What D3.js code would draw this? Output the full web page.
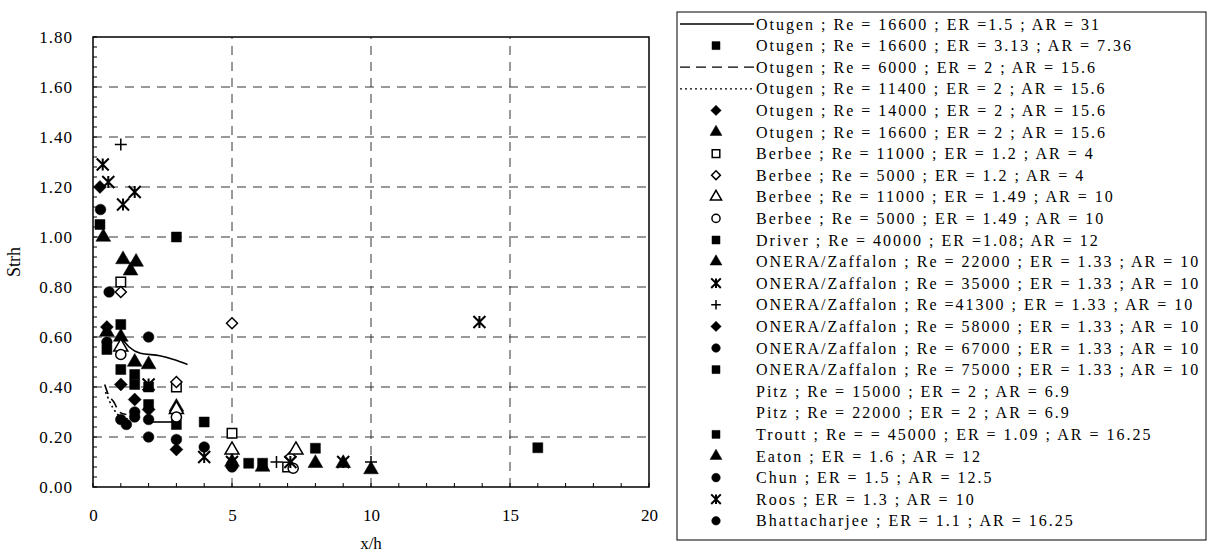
<!DOCTYPE html>
<html><head><meta charset="utf-8">
<script src="https://cdn.jsdelivr.net/npm/d3@7"></script>
<style>
body{margin:0;background:#fff}
svg{display:block}
text{font-family:"Liberation Serif","Times New Roman",serif;fill:#000}
</style>
</head><body>
<svg id="c" width="1208" height="553"></svg>
<script>
// ---------- data ----------
const xTicks = [0, 5, 10, 15, 20];
const yTicks = [0, 0.2, 0.4, 0.6, 0.8, 1.0, 1.2, 1.4, 1.6, 1.8];

const legendLabels = [
  "Otugen ; Re = 16600 ; ER =1.5 ; AR = 31",
  "Otugen ; Re = 16600 ; ER = 3.13 ; AR = 7.36",
  "Otugen ; Re = 6000 ; ER = 2 ; AR = 15.6",
  "Otugen ; Re = 11400 ; ER = 2 ; AR = 15.6",
  "Otugen ; Re = 14000 ; ER = 2 ; AR = 15.6",
  "Otugen ; Re = 16600 ; ER = 2 ; AR = 15.6",
  "Berbee ; Re = 11000 ; ER = 1.2 ; AR = 4",
  "Berbee ; Re = 5000 ; ER = 1.2 ; AR = 4",
  "Berbee ; Re = 11000 ; ER = 1.49 ; AR = 10",
  "Berbee ; Re = 5000 ; ER = 1.49 ; AR = 10",
  "Driver ; Re = 40000 ; ER =1.08; AR = 12",
  "ONERA/Zaffalon ; Re = 22000 ; ER = 1.33 ; AR = 10",
  "ONERA/Zaffalon ; Re = 35000 ; ER = 1.33 ; AR = 10",
  "ONERA/Zaffalon ; Re =41300 ; ER = 1.33 ; AR = 10",
  "ONERA/Zaffalon ; Re = 58000 ; ER = 1.33 ; AR = 10",
  "ONERA/Zaffalon ; Re = 67000 ; ER = 1.33 ; AR = 10",
  "ONERA/Zaffalon ; Re = 75000 ; ER = 1.33 ; AR = 10",
  "Pitz ; Re = 15000 ; ER = 2 ; AR = 6.9",
  "Pitz ; Re = 22000 ; ER = 2 ; AR = 6.9",
  "Troutt ; Re = = 45000 ; ER = 1.09 ; AR = 16.25",
  "Eaton ; ER = 1.6 ; AR = 12",
  "Chun ; ER = 1.5 ; AR = 12.5",
  "Roos ; ER = 1.3 ; AR = 10",
  "Bhattacharjee ; ER = 1.1 ; AR = 16.25"
];

// [x/h, Strh]
const otugen16600a = [[1.0,0.60],[1.3,0.56],[1.7,0.535],[2.4,0.525],[2.9,0.51],[3.4,0.49]];
const otugen16600b = [[0.5,0.55],[1.0,0.47],[1.5,0.41],[2.0,0.33],[3.0,0.25]];
const otugen6000   = [[0.42,0.41],[0.55,0.37],[0.75,0.34],[0.95,0.30],[1.2,0.29]];
const otugen11400  = [[0.45,0.38],[0.7,0.32],[1.0,0.28],[1.4,0.27]];
const otugen14000  = [[0.5,0.64],[1.0,0.41],[1.5,0.35],[2.0,0.31],[3.0,0.15]];
const otugen16600c = [[0.5,0.62],[1.0,0.60],[1.5,0.50],[2.0,0.49],[3.0,0.32]];
const berbee11000a = [[1.0,0.82],[3.0,0.40],[5.0,0.215],[7.0,0.08]];
const berbee5000a  = [[1.0,0.78],[3.0,0.42],[5.0,0.655],[7.1,0.12]];
const berbee11000b = [[1.0,0.56],[3.0,0.31],[5.0,0.148],[7.3,0.148]];
const berbee5000b  = [[1.0,0.53],[3.0,0.28],[5.0,0.09],[7.2,0.075]];
const driver40000  = [[1.0,0.65],[1.5,0.45],[2.0,0.40],[3.0,1.00],[4.0,0.26]];
const onera22000   = [[0.37,1.00],[1.08,0.91],[1.35,0.865],[1.55,0.90]];
const onera35000   = [[0.35,1.29],[0.55,1.22],[1.08,1.13],[1.5,1.18]];
const onera41300   = [[1.0,1.37],[6.6,0.10],[10.0,0.10]];
const onera58000   = [[0.25,1.20]];
const onera67000   = [[0.27,1.11]];
const onera75000   = [[0.25,1.05]];
const pitz15000    = [[2.1,0.26],[2.95,0.26]];
const pitz22000    = [];
const troutt45000  = [[5.6,0.095],[6.1,0.095],[8.0,0.155],[16.0,0.157]];
const eaton        = [[5.0,0.10],[6.1,0.08],[8.0,0.095],[9.0,0.095],[10.0,0.07]];
const chun         = [[2.0,0.60],[2.0,0.20],[4.0,0.16],[5.0,0.08],[1.5,0.28]];
const roos         = [[2.0,0.41],[4.0,0.12],[5.0,0.10],[7.1,0.10],[9.0,0.10],[13.9,0.66]];
const bhattacharjee= [[0.58,0.78],[0.5,0.58],[1.0,0.27],[1.5,0.30],[2.0,0.27],[3.0,0.19],[1.2,0.25]];

// ---------- series config (style) ----------
const seriesData = [otugen16600a, otugen16600b, otugen6000, otugen11400, otugen14000, otugen16600c,
  berbee11000a, berbee5000a, berbee11000b, berbee5000b, driver40000, onera22000, onera35000, onera41300,
  onera58000, onera67000, onera75000, pitz15000, pitz22000, troutt45000, eaton, chun, roos, bhattacharjee];
const seriesStyle = [
  {line:"solid"}, {mark:"square"}, {line:"dash"}, {line:"dot"}, {mark:"diamond"}, {mark:"triangle"},
  {mark:"square", open:true}, {mark:"diamond", open:true}, {mark:"triangle", open:true}, {mark:"circle", open:true},
  {mark:"square"}, {mark:"triangle"}, {mark:"star"}, {mark:"plus"}, {mark:"diamond"}, {mark:"circle"}, {mark:"square"},
  {line:"solid", hideLegend:true}, {}, {mark:"square"}, {mark:"triangle"}, {mark:"circle"}, {mark:"star"}, {mark:"circle"}
];
const series = legendLabels.map((label, i) => ({label, data: seriesData[i], ...seriesStyle[i]}));

// ---------- chart ----------
const svg = d3.select("#c");
const x = d3.scaleLinear().domain([0, 20]).range([93, 649]);
const y = d3.scaleLinear().domain([0, 1.8]).range([487, 37]);

// grid
const grid = svg.append("g").attr("stroke", "#333").attr("stroke-width", 1).attr("stroke-dasharray", "9,7");
grid.selectAll("line.h").data(yTicks.filter(d => d > 0 && d < 1.8)).join("line")
  .attr("x1", x(0)).attr("x2", x(20)).attr("y1", d => y(d)).attr("y2", d => y(d));
grid.selectAll("line.v").data(xTicks.filter(d => d > 0 && d < 20)).join("line")
  .attr("y1", y(0)).attr("y2", y(1.8)).attr("x1", d => x(d)).attr("x2", d => x(d));

// minor ticks
const minorY = d3.range(0, 1.8001, 0.04);
svg.append("g").selectAll("line").data(minorY).join("line")
  .attr("x1", x(0)).attr("x2", x(0) + 4).attr("y1", d => y(d)).attr("y2", d => y(d))
  .attr("stroke", "#000").attr("stroke-width", 1);
const minorX = d3.range(0, 21, 1);
svg.append("g").selectAll("line").data(minorX).join("line")
  .attr("x1", d => x(d)).attr("x2", d => x(d)).attr("y1", y(0)).attr("y2", y(0) - 4)
  .attr("stroke", "#000").attr("stroke-width", 1);

// frame
svg.append("rect").attr("x", x(0)).attr("y", y(1.8)).attr("width", x(20) - x(0)).attr("height", y(0) - y(1.8))
  .attr("fill", "none").attr("stroke", "#000").attr("stroke-width", 1.5);

// axes
const yAxis = svg.append("g").attr("transform", `translate(${x(0)},0)`)
  .call(d3.axisLeft(y).tickValues(yTicks).tickFormat(d3.format(".2f")).tickSize(0).tickPadding(20));
yAxis.select(".domain").remove();
yAxis.selectAll("text").attr("font-size", 17).attr("letter-spacing", "1px")
  .style("font-family", '"Liberation Serif",serif');
const xAxis = svg.append("g").attr("transform", `translate(0,${y(0)})`)
  .call(d3.axisBottom(x).tickValues(xTicks).tickFormat(d3.format("d")).tickSize(0).tickPadding(22));
xAxis.select(".domain").remove();
xAxis.selectAll("text").attr("font-size", 17).style("font-family", '"Liberation Serif",serif');

svg.append("text").attr("transform", `translate(20,${(y(0) + y(1.8)) / 2}) rotate(-90)`)
  .attr("text-anchor", "middle").attr("font-size", 18).text("Strh");
svg.append("text").attr("x", (x(0) + x(20)) / 2).attr("y", 549)
  .attr("text-anchor", "middle").attr("font-size", 17).text("x/h");

// symbols
function drawMark(g, s, scale) {
  const k = scale || 1;
  if (s.mark === "star") {
    const r = 6 * k;
    g.append("path").attr("d", `M${-r},${-r}L${r},${r}M${-r},${r}L${r},${-r}M0,${-r}L0,${r}`)
      .attr("stroke", "#000").attr("stroke-width", 2).attr("fill", "none");
  } else if (s.mark === "plus") {
    const r = 6 * k;
    g.append("path").attr("d", `M${-r},0L${r},0M0,${-r}L0,${r}`)
      .attr("stroke", "#000").attr("stroke-width", 1.5).attr("fill", "none");
  } else if (s.mark === "diamond") {
    const r = (s.open ? 5.5 : 6.5) * k;
    g.append("path").attr("d", `M0,${-r}L${r},0L0,${r}L${-r},0Z`)
      .attr("fill", s.open ? "#fff" : "#000").attr("stroke", "#000").attr("stroke-width", s.open ? 1.5 : 0.5);
  } else {
    const type = {square: d3.symbolSquare, triangle: d3.symbolTriangle, circle: d3.symbolCircle}[s.mark];
    const size = {square: 100, triangle: 95, circle: 90}[s.mark] * k * k;
    g.append("path").attr("d", d3.symbol().type(type).size(s.open ? size * 0.9 : size)())
      .attr("fill", s.open ? "#fff" : "#000").attr("stroke", "#000").attr("stroke-width", s.open ? 1.5 : 0.5);
  }
}
const dashFor = {solid: null, dash: "10,6", dot: "2,3"};
const lineGen = d3.line().x(d => x(d[0])).y(d => y(d[1])).curve(d3.curveMonotoneX);

series.forEach(s => {
  if (s.line && s.data.length) {
    svg.append("path").datum(s.data).attr("d", lineGen).attr("fill", "none")
      .attr("stroke", "#000").attr("stroke-width", 1.6).attr("stroke-dasharray", dashFor[s.line]);
  }
});
series.forEach(s => {
  if (!s.mark) return;
  s.data.forEach(d => {
    const g = svg.append("g").attr("transform", `translate(${x(d[0])},${y(d[1])})`);
    drawMark(g, s, 1);
  });
});

// legend
const lgTop = 12, lgLeft = 677, lgW = 529, rowH = 21.6, row0 = 24;
svg.append("rect").attr("x", lgLeft).attr("y", lgTop).attr("width", lgW).attr("height", 528)
  .attr("fill", "none").attr("stroke", "#000").attr("stroke-width", 1);
series.forEach((s, i) => {
  const cy = row0 + i * rowH;
  if (s.line && !s.hideLegend) {
    svg.append("line").attr("x1", 680).attr("x2", 754).attr("y1", cy).attr("y2", cy)
      .attr("stroke", "#000").attr("stroke-width", 1.3).attr("stroke-dasharray", dashFor[s.line]);
  }
  if (s.mark) {
    const g = svg.append("g").attr("transform", `translate(716,${cy})`);
    drawMark(g, s, 0.8);
  }
  svg.append("text").attr("x", 756).attr("y", cy).attr("dy", "0.35em")
    .attr("font-size", 16).attr("letter-spacing", "2px").text(s.label);
});
</script>
</body></html>
